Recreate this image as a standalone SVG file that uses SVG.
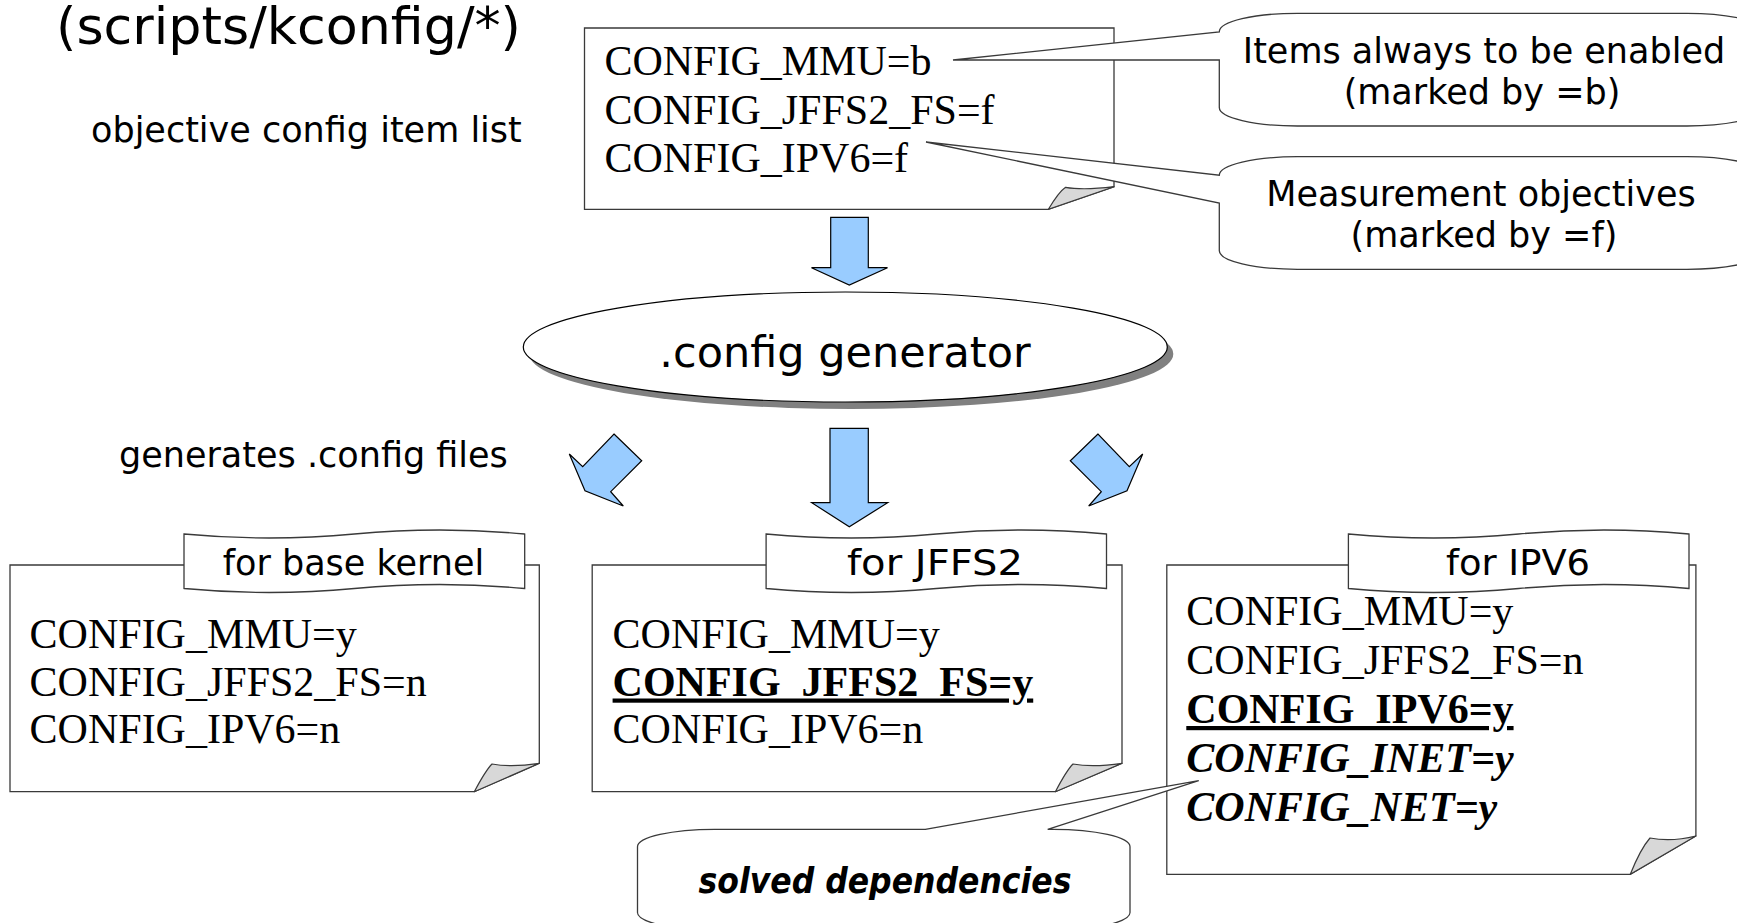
<svg xmlns="http://www.w3.org/2000/svg" width="1737" height="923" viewBox="0 0 1737 923">
<style>
.box{fill:#fff;stroke:#3a3a3a;stroke-width:1.3}
.fold{fill:#d8d8d8;stroke:#3a3a3a;stroke-width:1.2;stroke-linejoin:round}
.arrow{fill:#99ccff;stroke:#000;stroke-width:1.2}
.bubble{fill:#fff;stroke:#3a3a3a;stroke-width:1.3}
.tab{fill:#fff;stroke:#3a3a3a;stroke-width:1.3}
.tt{font-family:"Liberation Serif","Times New Roman",serif;font-size:42px;fill:#000}
.b{font-weight:bold}
.bi{font-weight:bold;font-style:italic}
.u{text-decoration:underline}
.gt{font-family:"DejaVu Sans","Noto Sans CJK JP",sans-serif;font-size:35px;fill:#000}
.mid{text-anchor:middle}
</style>

<g id="title">
<text class="gt" x="56" y="44" style="font-size:51px" textLength="465" lengthAdjust="spacingAndGlyphs">(scripts/kconfig/*)</text>
</g>
<g id="label-objective">
<text class="gt" x="91" y="142">objective config item list</text>
</g>
<g id="label-generates">
<text class="gt" x="119" y="467">generates .config files</text>
</g>

<g id="objective-list">
<path class="box" d="M584.5,28 H1114 V186.7 L1048.4,209.3 H584.5 Z"/>
<path class="fold" d="M1048.4,209.3 C1054,200 1060,191 1065.6,187.3 C1080,190 1095,189 1114,186.7 Z"/>
<text class="tt" x="604.4" y="75">CONFIG_MMU=b</text>
<text class="tt" x="604.4" y="123.5">CONFIG_JFFS2_FS=f</text>
<text class="tt" x="604.4" y="172">CONFIG_IPV6=f</text>
</g>

<g id="callout-always">
<path class="bubble" d="M953,60 L1219.3,31.8 A78,18.5 0 0 1 1297.3,13.3 H1687 A78,18.5 0 0 1 1765,31.8 V107.5 A78,18.5 0 0 1 1687,126 H1297.3 A78,18.5 0 0 1 1219.3,107.5 V60 Z"/>
<text class="gt mid" x="1484" y="63">Items always to be enabled</text>
<text class="gt mid" x="1482" y="104">(marked by =b)</text>
</g>

<g id="callout-objectives">
<path class="bubble" d="M926,142 L1219.3,175.2 A78,18.5 0 0 1 1297.3,156.7 H1687 A78,18.5 0 0 1 1765,175.2 V250.8 A78,18.5 0 0 1 1687,269.3 H1297.3 A78,18.5 0 0 1 1219.3,250.8 V203 Z"/>
<text class="gt mid" x="1481" y="206">Measurement objectives</text>
<text class="gt mid" x="1484" y="247">(marked by =f)</text>
</g>

<g id="generator">
<ellipse cx="851.3" cy="354" rx="322" ry="55" fill="#808080"/>
<ellipse cx="845.3" cy="347" rx="322" ry="55" fill="#fff" stroke="#000" stroke-width="1.2"/>
<text class="gt mid" x="845" y="367" style="font-size:43px">.config generator</text>
</g>

<g id="connectors">
<path class="arrow" d="M830.7,217.3 H868.3 V267.7 H887.5 L849.3,285 L811.5,267.7 H830.7 Z"/>
<path class="arrow" d="M830,428.3 H868.3 V502.7 H887.7 L849.3,526.7 L811.7,502.7 H830 Z"/>
<path class="arrow" d="M614,434 L641.7,460.7 L610.7,491.7 L623.3,506 L585,490.7 L569.3,454 L582.7,466.7 Z"/>
<path class="arrow" d="M1098,434 L1070.3,460.7 L1101.3,491.7 L1088.7,506 L1127,490.7 L1142.7,454 L1129.3,466.7 Z"/>
</g>

<g id="config-base">
<path class="box" d="M10,565 H539.3 V763.3 L474.3,791.7 H10 Z"/>
<path class="fold" d="M474.3,791.7 C480,781 486,770 492,764 C508,767 522,766 539.3,763.3 Z"/>
<path class="tab" d="M184,534 Q269.2,542 354.35,534 T524.7,534 V588.5 Q439.5,580.5 354.35,588.5 T184,588.5 Z"/>
<text class="gt mid" x="353.5" y="575">for base kernel</text>
<text class="tt" x="29.6" y="648">CONFIG_MMU=y</text>
<text class="tt" x="29.6" y="695.5">CONFIG_JFFS2_FS=n</text>
<text class="tt" x="29.6" y="743">CONFIG_IPV6=n</text>
</g>

<g id="config-jffs2">
<path class="box" d="M592.2,565 H1122 V763.3 L1055.4,791.7 H592.2 Z"/>
<path class="fold" d="M1055.4,791.7 C1061,781 1067,770 1073,764 C1089,767 1104,766 1122,763.3 Z"/>
<path class="tab" d="M766.1,534 Q851.2,542 936.3,534 T1106.5,534 V588.5 Q1021.4,580.5 936.3,588.5 T766.1,588.5 Z"/>
<text class="gt mid" x="935" y="575" textLength="176" lengthAdjust="spacingAndGlyphs">for JFFS2</text>
<text class="tt" x="612.6" y="648">CONFIG_MMU=y</text>
<text class="tt b u" x="612.6" y="695.5">CONFIG_JFFS2_FS=y</text>
<text class="tt" x="612.6" y="743">CONFIG_IPV6=n</text>
</g>

<g id="config-ipv6">
<path class="box" d="M1166.8,565 H1695.9 V836 L1630.3,874.3 H1166.8 Z"/>
<path class="fold" d="M1630.3,874.3 C1636,860 1643,846 1650,838 C1665,841 1680,840 1695.9,836 Z"/>
<path class="tab" d="M1348.4,534 Q1433.5,542 1518.7,534 T1689,534 V588.5 Q1603.9,580.5 1518.7,588.5 T1348.4,588.5 Z"/>
<text class="gt mid" x="1518" y="575" textLength="144" lengthAdjust="spacingAndGlyphs">for IPV6</text>
<text class="tt" x="1186.3" y="625">CONFIG_MMU=y</text>
<text class="tt" x="1186.3" y="674">CONFIG_JFFS2_FS=n</text>
<text class="tt b u" x="1186.3" y="723">CONFIG_IPV6=y</text>
<text class="tt bi" x="1186.3" y="772">CONFIG_INET=y</text>
<text class="tt bi" x="1186.3" y="821">CONFIG_NET=y</text>
</g>

<g id="callout-dependencies">
<path class="bubble" d="M925.3,829.3 L1198.7,780.7 L1047.7,829.3 H1053 A77,17.4 0 0 1 1130,846.7 V912.6 A77,17.4 0 0 1 1053,930 H714.5 A77,17.4 0 0 1 637.5,912.6 V846.7 A77,17.4 0 0 1 714.5,829.3 Z"/>
<text class="gt mid bi" x="885" y="893" textLength="373" lengthAdjust="spacingAndGlyphs">solved dependencies</text>
</g>
</svg>
